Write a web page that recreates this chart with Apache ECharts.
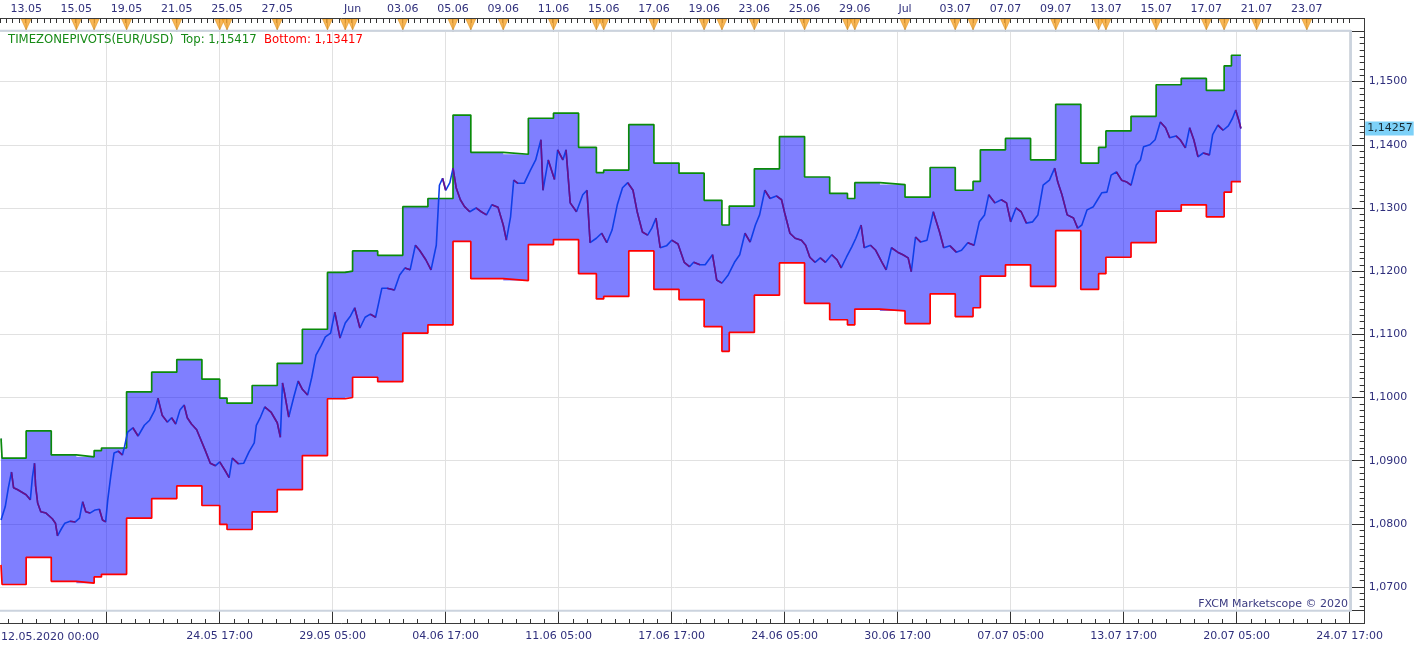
<!DOCTYPE html>
<html><head><meta charset="utf-8">
<script src="https://cdn.jsdelivr.net/npm/echarts@6/dist/echarts.min.js"></script>
<style>html,body{margin:0;padding:0;background:#fff}#c{width:1423px;height:649px}</style>
</head><body><div id="c"></div>
<script>
// ---- data (bar index = hourly bar counted from 12.05.2020 00:00) ----
const priceBars = [0,4,7,10,12,16,20,24,28,30,32,33,35,38,43,49,52,54,58,61,66,71,75,78,81,85,90,94,97,100,102,105,108,112,116,118,121,126,131,137,142,147,150,154,159,163,167,171,175,178,182,187,195,200,205,209,215,218,221,227,232,237,242,244,248,252,258,264,267,269,271,275,280,284,288,293,297,301,306,310,315,319,324,329,334,338,343,348,353,358,364,369,376,381,386,391,396,400,406,411,416,419,422,425,429,432,435,439,443,448,454,459,464,469,475,480,483,487,490,494,500,506,511,516,518,523,529,532,537,540,544,550,556,560,563,569,574,579,584,589,594,599,604,608,613,618,622,626,630,636,641,647,653,658,662,668,673,680,684,689,695,701,706,711,716,721,725,730,735,741,746,749,754,759,765,769,773,778,783,788,794,799,803,808,813,817,822,825,831,836,842,846,851,857,862,867,870,874,879,885,891,897,901,907,913,918,924,930,935,940,944,950,956,961,965,970,975,980,986,991,996,1002,1007,1010,1014,1019,1025,1029,1033,1038,1044,1048,1052,1057,1061,1066,1071,1076,1080,1085,1089,1092,1098,1103,1108,1113,1117,1123,1127,1132,1136,1140,1144,1149,1155,1158,1163,1168,1173,1177,1180,1183,1185];
const priceValues = [1.0806,1.0827,1.0857,1.0882,1.0857,1.0854,1.0850,1.0846,1.0838,1.0874,1.0896,1.0861,1.0833,1.0819,1.0817,1.0808,1.0801,1.0781,1.0793,1.0801,1.0804,1.0803,1.0809,1.0835,1.0819,1.0817,1.0822,1.0823,1.0806,1.0803,1.0838,1.0877,1.0912,1.0915,1.0909,1.0922,1.0945,1.0952,1.0939,1.0956,1.0964,1.0980,1.0999,1.0972,1.0961,1.0968,1.0958,1.0980,1.0988,1.0968,1.0958,1.0949,1.0917,1.0896,1.0892,1.0898,1.0882,1.0873,1.0904,1.0895,1.0896,1.0914,1.0928,1.0956,1.0969,1.0985,1.0977,1.0960,1.0937,1.1023,1.1007,1.0969,1.1002,1.1026,1.1013,1.1004,1.1032,1.1067,1.1082,1.1096,1.1102,1.1135,1.1094,1.1118,1.1129,1.1142,1.1110,1.1127,1.1132,1.1127,1.1173,1.1173,1.1170,1.1194,1.1205,1.1202,1.1241,1.1233,1.1218,1.1202,1.1241,1.1336,1.1347,1.1328,1.1340,1.1363,1.1332,1.1313,1.1302,1.1294,1.1300,1.1294,1.1289,1.1305,1.1301,1.1273,1.1249,1.1286,1.1344,1.1339,1.1339,1.1360,1.1376,1.1408,1.1328,1.1376,1.1345,1.1392,1.1376,1.1392,1.1308,1.1294,1.1321,1.1328,1.1245,1.1252,1.1260,1.1245,1.1265,1.1305,1.1332,1.1340,1.1328,1.1294,1.1262,1.1257,1.1268,1.1284,1.1237,1.1240,1.1249,1.1243,1.1214,1.1207,1.1214,1.1210,1.1210,1.1226,1.1186,1.1181,1.1194,1.1214,1.1226,1.1260,1.1246,1.1273,1.1289,1.1328,1.1315,1.1319,1.1313,1.1292,1.1260,1.1252,1.1249,1.1241,1.1222,1.1214,1.1221,1.1214,1.1226,1.1218,1.1205,1.1222,1.1238,1.1252,1.1273,1.1237,1.1241,1.1233,1.1214,1.1202,1.1237,1.1230,1.1226,1.1221,1.1199,1.1254,1.1246,1.1249,1.1294,1.1262,1.1237,1.1240,1.1230,1.1233,1.1245,1.1241,1.1278,1.1289,1.1321,1.1308,1.1313,1.1308,1.1278,1.1300,1.1294,1.1276,1.1278,1.1289,1.1336,1.1344,1.1363,1.1341,1.1321,1.1289,1.1284,1.1268,1.1273,1.1297,1.1302,1.1313,1.1324,1.1325,1.1352,1.1357,1.1344,1.1341,1.1336,1.1368,1.1376,1.1397,1.1400,1.1408,1.1436,1.1427,1.1411,1.1414,1.1408,1.1395,1.1427,1.1408,1.1381,1.1387,1.1384,1.1416,1.1431,1.1423,1.1430,1.1442,1.1455,1.1439,1.14257];
const bandStart = [0,1,24,48,72,89,96,120,144,168,192,209,216,240,264,288,312,329,336,360,384,408,432,449,480,504,528,552,569,576,600,624,648,672,689,696,720,744,768,792,809,816,840,864,888,912,929,936,960,984,1008,1032,1049,1056,1080,1104,1128,1152,1169,1176];
const bandTop = [1.0935,1.0904,1.0947,1.0909,1.0906,1.0916,1.0920,1.1009,1.1040,1.1060,1.1029,1.0999,1.0991,1.1019,1.1054,1.1108,1.1198,1.1200,1.1232,1.1225,1.1302,1.1315,1.1447,1.1388,1.1385,1.1442,1.1450,1.1396,1.1356,1.1360,1.1432,1.1371,1.1355,1.1312,1.1273,1.1303,1.1362,1.1413,1.1349,1.1323,1.1315,1.1340,1.1337,1.1317,1.1364,1.1328,1.1342,1.1392,1.1410,1.1376,1.1464,1.1371,1.1396,1.1422,1.1445,1.1495,1.1505,1.1486,1.1525,1.15417];
const bandBottom = [1.0735,1.0704,1.0747,1.0709,1.0706,1.0716,1.0720,1.0809,1.0840,1.0860,1.0829,1.0799,1.0791,1.0819,1.0854,1.0908,1.0998,1.1000,1.1032,1.1025,1.1102,1.1115,1.1247,1.1188,1.1185,1.1242,1.1250,1.1196,1.1156,1.1160,1.1232,1.1171,1.1155,1.1112,1.1073,1.1103,1.1162,1.1213,1.1149,1.1123,1.1115,1.1140,1.1137,1.1117,1.1164,1.1128,1.1142,1.1192,1.1210,1.1176,1.1264,1.1171,1.1196,1.1222,1.1245,1.1295,1.1305,1.1286,1.1325,1.13417];
const bandEnd = 1185;
const lastPrice = 1.14257;
const topLabelBars = [24,72,120,168,216,264,336,384,432,480,528,576,624,672,720,768,816,864,912,960,1008,1056,1104,1152,1200,1248];
const topLabels = ['13.05','15.05','19.05','21.05','25.05','27.05','Jun','03.06','05.06','09.06','11.06','15.06','17.06','19.06','23.06','25.06','29.06','Jul','03.07','07.07','09.07','13.07','15.07','17.07','21.07','23.07'];
const eventBars = [24,72,89,120,168,209,216,264,312,329,336,384,432,449,480,528,569,576,624,672,689,720,768,809,816,864,912,929,960,1008,1049,1056,1104,1152,1169,1200,1248];
const bottomLabels = ['12.05.2020 00:00','','24.05 17:00','29.05 05:00','04.06 17:00','11.06 05:00','17.06 17:00','24.06 05:00','30.06 17:00','07.07 05:00','13.07 17:00','20.07 05:00','24.07 17:00'];
const instrumentTitle = 'TIMEZONEPIVOTS(EUR/USD)';
const watermark = 'FXCM Marketscope \u00a9 2020';

// ---- layout / style ----
const X0 = 7;              // axis offset so that day grid lines fall on multiples of 108 bars
const BARS_PER_GRID = 108;
const XMAX = 1296;
const FONT = "'DejaVu Sans', Verdana, sans-serif";
const LABEL_COLOR = '#2f2f7c';
const fmt = (v, d) => v.toFixed(d).replace('.', ',');

const n = Math.min(priceBars.length, priceValues.length);
const priceData = [];
for (let i = 0; i < n; i++) priceData.push([priceBars[i] + X0, priceValues[i]]);
const downData = [];
for (let i = 0; i < n - 1; i++) {
  if (priceValues[i + 1] < priceValues[i]) {
    const prevDown = i > 0 && priceValues[i] < priceValues[i - 1];
    if (!prevDown) {
      if (downData.length) downData.push([priceData[i][0], null]);
      downData.push(priceData[i]);
    }
    downData.push(priceData[i + 1]);
  }
}
const bx = bandStart.map(b => b + X0).concat([bandEnd + X0]);
const tY = bandTop.concat([bandTop[bandTop.length - 1]]);
const bY = bandBottom.concat([bandBottom[bandBottom.length - 1]]);
const topData = bx.map((x, i) => [x, tY[i]]);
const botData = bx.map((x, i) => [x, bY[i]]);
const segData = bandStart.map((b, i) => [b + X0, bx[i + 1], bandTop[i], bandBottom[i]]);
const topLabelMap = {};
topLabelBars.forEach((b, i) => { topLabelMap[b + X0] = topLabels[i]; });

function renderBand(params, api) {
  if (params.dataIndex !== 0) return null;
  const pts = [];
  for (let i = 0; i < segData.length; i++) {
    pts.push(api.coord([segData[i][0], segData[i][2]]));
    pts.push(api.coord([segData[i][1], segData[i][2]]));
  }
  for (let i = segData.length - 1; i >= 0; i--) {
    pts.push(api.coord([segData[i][1], segData[i][3]]));
    pts.push(api.coord([segData[i][0], segData[i][3]]));
  }
  return {type: 'polygon', shape: {points: pts}, style: {fill: 'rgba(0,0,255,0.5)', stroke: null}};
}

const chart = echarts.init(document.getElementById('c'), null, {renderer: 'canvas'});
chart.setOption({
  animation: false,
  backgroundColor: '#ffffff',
  title: {
    left: 8, top: 34, padding: 0,
    text: '{g|' + instrumentTitle + '  Top: ' + fmt(bandTop[bandTop.length - 1], 5) + '}  {r|Bottom: ' + fmt(bandBottom[bandBottom.length - 1], 5) + '}',
    textStyle: {fontSize: 11.7, fontFamily: FONT, fontWeight: 'normal',
      rich: {g: {color: '#168a16', fontSize: 11.7, fontFamily: FONT}, r: {color: '#ff0000', fontSize: 11.7, fontFamily: FONT}}}
  },
  grid: [
    {left: -6.3, right: 73.3, top: 31, bottom: 39, containLabel: false, outerBoundsMode: 'none'},
    {left: -6.3, right: 73.3, top: 19, height: 12, containLabel: false, outerBoundsMode: 'none'}
  ],
  xAxis: [
    {gridIndex: 0, type: 'value', min: 0, max: XMAX, interval: BARS_PER_GRID, position: 'bottom', offset: 13,
     axisLine: {show: false, onZero: false},
     axisTick: {show: true, inside: true, length: 12, lineStyle: {color: '#333', width: 1}},
     minorTick: {show: true, splitNumber: 8, length: 4, lineStyle: {color: '#333', width: 1}},
     splitLine: {show: true, lineStyle: {color: '#e1e1e1', width: 1}},
     axisLabel: {show: true, margin: 8, color: LABEL_COLOR, fontSize: 11, fontFamily: FONT, showMinLabel: true, showMaxLabel: true, hideOverlap: false,
       formatter: v => { const k = Math.round(v / BARS_PER_GRID); return k === 0 ? '' : (bottomLabels[k] || ''); }}},
    {gridIndex: 1, type: 'value', min: 0, max: XMAX, interval: 6, position: 'top',
     axisLine: {show: false, onZero: false},
     axisTick: {show: true, inside: true, length: 4, lineStyle: {color: '#333', width: 1}},
     splitLine: {show: false},
     axisLabel: {show: true, margin: 4, color: LABEL_COLOR, fontSize: 11, fontFamily: FONT, hideOverlap: false,
       customValues: topLabelBars.map(b => b + X0),
       formatter: v => topLabelMap[Math.round(v)] || ''}}
  ],
  yAxis: [
    {gridIndex: 0, type: 'value', position: 'right', offset: 15, min: 1.06636, max: 1.15801, splitNumber: 9, scale: true,
     axisLine: {show: false, onZero: false},
     axisTick: {show: true, inside: true, length: 13, lineStyle: {color: '#333', width: 1}},
     minorTick: {show: true, splitNumber: 10, length: 5, lineStyle: {color: '#333', width: 1}},
     splitLine: {show: true, lineStyle: {color: '#e1e1e1', width: 1}},
     axisLabel: {show: true, margin: 4, color: LABEL_COLOR, fontSize: 11, fontFamily: FONT, showMinLabel: false, showMaxLabel: false,
       formatter: v => fmt(v, 4)}},
    {gridIndex: 1, type: 'value', min: 0, max: 1, show: false}
  ],
  series: [
    {name: 'band', type: 'custom', xAxisIndex: 0, yAxisIndex: 0, renderItem: renderBand, silent: true, clip: true,
     encode: {x: [0, 1], y: [2, 3]}, data: segData, z: 2},
    {name: 'Top', type: 'line', xAxisIndex: 0, yAxisIndex: 0, step: 'end', symbol: 'none', silent: true,
     lineStyle: {color: '#0a8a0a', width: 1.7}, data: topData, z: 3},
    {name: 'Bottom', type: 'line', xAxisIndex: 0, yAxisIndex: 0, step: 'end', symbol: 'none', silent: true,
     lineStyle: {color: '#ff0000', width: 1.7}, data: botData, z: 3},
    {name: 'EUR/USD', type: 'line', xAxisIndex: 0, yAxisIndex: 0, symbol: 'none', silent: true,
     lineStyle: {color: '#0f3fe8', width: 1.6}, data: priceData, z: 4},
    {name: 'EUR/USD down', type: 'line', xAxisIndex: 0, yAxisIndex: 0, symbol: 'none', silent: true, connectNulls: false,
     lineStyle: {color: '#6c1088', width: 1.6}, data: downData, z: 5},
    {name: 'lastPrice', type: 'scatter', xAxisIndex: 0, yAxisIndex: 0, symbolSize: 1, clip: false, silent: true,
     itemStyle: {color: 'rgba(0,0,0,0)'}, z: 20,
     label: {show: true, position: 'right', distance: 15, formatter: p => fmt(p.value[1], 5), backgroundColor: '#5cc6f6',
       color: '#000', padding: [2, 1, 1, 2], fontSize: 11, fontFamily: FONT},
     data: [[XMAX, lastPrice]]},
    {name: 'eventLines', type: 'scatter', xAxisIndex: 1, yAxisIndex: 1, symbol: 'rect', symbolSize: [1, 13], silent: true,
     itemStyle: {color: '#555'}, data: eventBars.map(b => [b + X0, 0.5]), z: 3},
    {name: 'events', type: 'scatter', xAxisIndex: 1, yAxisIndex: 1, symbol: 'triangle', symbolRotate: 180, symbolSize: [10, 11], silent: true,
     itemStyle: {color: '#f7a52c', borderColor: '#d9890f', borderWidth: 0.6}, data: eventBars.map(b => [b + X0, 0.55]), z: 4}
  ],
  graphic: [
    {type: 'line', z: 100, shape: {x1: 0, y1: 30.7, x2: 1351, y2: 30.7}, style: {stroke: '#cbd3de', lineWidth: 2}},
    {type: 'line', z: 100, shape: {x1: 1350.7, y1: 30, x2: 1350.7, y2: 611.5}, style: {stroke: '#cbd3de', lineWidth: 2.5}},
    {type: 'line', z: 100, shape: {x1: 0, y1: 610.7, x2: 1351, y2: 610.7}, style: {stroke: '#cbd3de', lineWidth: 2}},
    {type: 'line', z: 100, shape: {x1: 0, y1: 18.5, x2: 1365, y2: 18.5}, style: {stroke: '#3a3a3a', lineWidth: 1}},
    {type: 'line', z: 100, shape: {x1: 0, y1: 623.5, x2: 1365, y2: 623.5}, style: {stroke: '#3a3a3a', lineWidth: 1}},
    {type: 'line', z: 100, shape: {x1: 1364.5, y1: 18, x2: 1364.5, y2: 624}, style: {stroke: '#3a3a3a', lineWidth: 1}},
    {type: 'text', z: 100, x: 1, y: 637, style: {text: bottomLabels[0], align: 'left', verticalAlign: 'middle', fill: LABEL_COLOR, font: '11px ' + FONT}},
    {type: 'text', z: 100, x: 1348, y: 604, style: {text: watermark, align: 'right', verticalAlign: 'middle', fill: '#3a3a80', font: '11px ' + FONT}}
  ]
});
</script>
</body></html>
